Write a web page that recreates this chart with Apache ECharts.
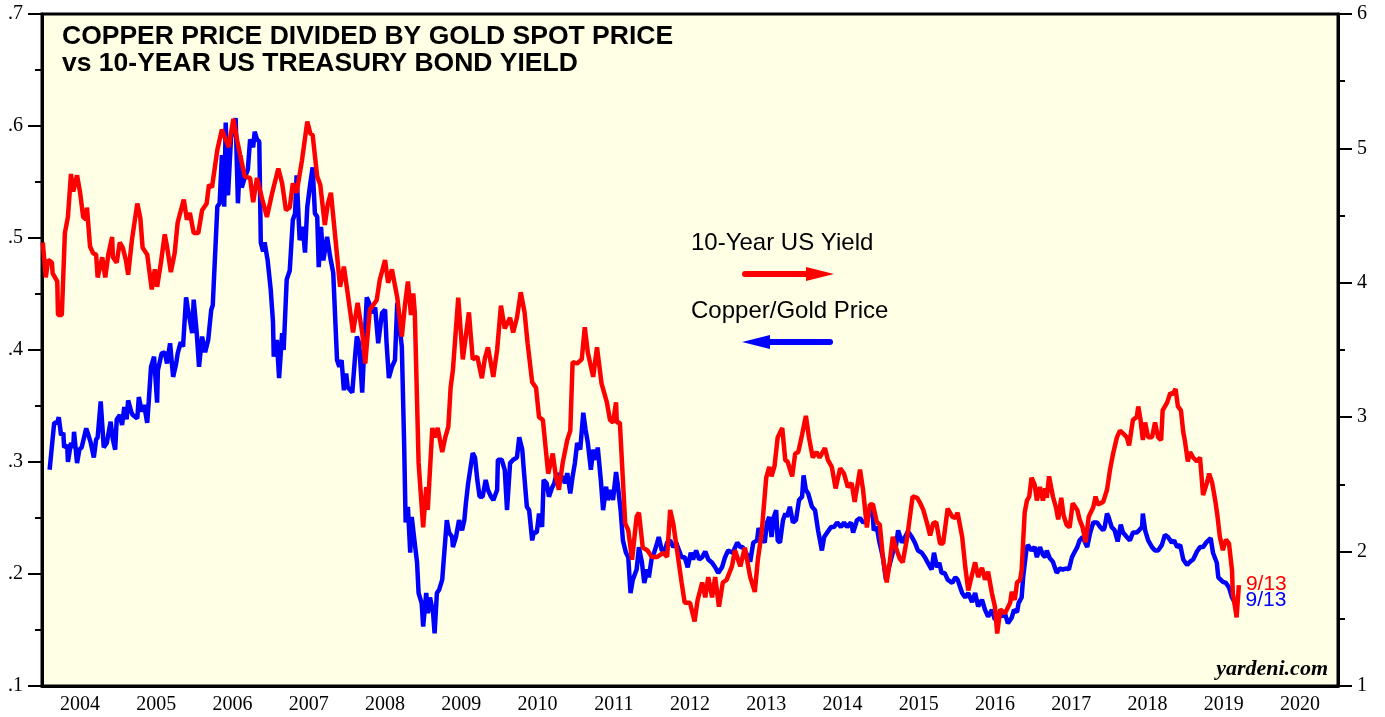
<!DOCTYPE html>
<html>
<head>
<meta charset="utf-8">
<script src="https://cdn.jsdelivr.net/npm/echarts@6/dist/echarts.min.js"></script>
<style>
  html, body { margin: 0; padding: 0; background: #fff; }
  #chart { width: 1385px; height: 717px; }
</style>
</head>
<body>
<div id="chart"></div>
<script>
// ============================================================================
// Data ([decimal year, value])
// ============================================================================

const yearLabels = ['2004','2005','2006','2007','2008','2009','2010','2011','2012',
                    '2013','2014','2015','2016','2017','2018','2019','2020']

// 10-year US Treasury yield, percent (right axis)
const yieldData = [
  [2004.01,4.30],[2004.05,4.04],[2004.08,4.17],[2004.13,4.15],[2004.14,4.07],[2004.20,4.01],[2004.21,3.76],[2004.26,3.76],
  [2004.30,4.37],[2004.34,4.49],[2004.38,4.81],[2004.41,4.68],[2004.46,4.80],[2004.50,4.67],[2004.54,4.49],[2004.58,4.47],
  [2004.59,4.56],[2004.63,4.27],[2004.67,4.22],[2004.71,4.21],[2004.73,4.04],[2004.79,4.19],[2004.83,4.04],[2004.87,4.21],
  [2004.92,4.34],[2004.93,4.19],[2004.98,4.15],[2005.02,4.30],[2005.06,4.26],[2005.10,4.17],[2005.13,4.06],[2005.18,4.32],
  [2005.25,4.59],[2005.29,4.48],[2005.32,4.26],[2005.38,4.21],[2005.44,3.95],[2005.48,4.10],[2005.51,3.97],[2005.56,4.15],
  [2005.61,4.36],[2005.64,4.27],[2005.69,4.08],[2005.74,4.22],[2005.78,4.45],[2005.86,4.62],[2005.90,4.47],[2005.94,4.52],
  [2005.99,4.37],[2006.05,4.37],[2006.10,4.54],[2006.16,4.59],[2006.19,4.73],[2006.23,4.71],[2006.30,4.99],[2006.36,5.14],
  [2006.40,5.08],[2006.45,5.01],[2006.51,5.22],[2006.56,5.06],[2006.60,4.95],[2006.66,4.79],[2006.73,4.78],[2006.77,4.60],
  [2006.82,4.78],[2006.89,4.62],[2006.95,4.49],[2007.02,4.67],[2007.10,4.85],[2007.15,4.74],[2007.20,4.54],[2007.25,4.56],
  [2007.29,4.74],[2007.34,4.67],[2007.41,4.91],[2007.48,5.20],[2007.52,5.11],[2007.55,5.10],[2007.61,4.79],[2007.65,4.73],
  [2007.71,4.43],[2007.75,4.59],[2007.79,4.67],[2007.84,4.38],[2007.91,3.97],[2007.96,4.12],[2008.01,3.92],[2008.08,3.63],
  [2008.14,3.85],[2008.20,3.63],[2008.24,3.40],[2008.30,3.80],[2008.39,3.87],[2008.43,4.02],[2008.50,4.17],[2008.54,4.00],
  [2008.59,4.10],[2008.66,3.89],[2008.72,3.60],[2008.76,3.83],[2008.80,4.01],[2008.84,3.76],[2008.87,3.92],[2008.89,3.78],
  [2008.94,2.66],[2009.00,2.18],[2009.04,2.48],[2009.06,2.31],[2009.12,2.92],[2009.15,2.85],[2009.19,2.92],[2009.25,2.74],
  [2009.29,2.85],[2009.33,2.93],[2009.36,3.22],[2009.39,3.35],[2009.46,3.89],[2009.52,3.43],[2009.60,3.78],[2009.65,3.43],
  [2009.71,3.45],[2009.77,3.29],[2009.81,3.44],[2009.85,3.52],[2009.92,3.30],[2009.97,3.50],[2010.02,3.83],[2010.07,3.66],
  [2010.14,3.74],[2010.18,3.63],[2010.23,3.74],[2010.28,3.93],[2010.33,3.78],[2010.37,3.55],[2010.43,3.26],[2010.48,3.22],
  [2010.52,3.00],[2010.57,2.98],[2010.64,2.58],[2010.70,2.73],[2010.74,2.56],[2010.78,2.46],[2010.83,2.66],[2010.89,2.83],
  [2010.93,2.90],[2010.96,3.41],[2011.02,3.40],[2011.08,3.43],[2011.12,3.67],[2011.16,3.48],[2011.23,3.30],[2011.28,3.52],
  [2011.34,3.25],[2011.41,3.11],[2011.45,2.98],[2011.49,2.96],[2011.53,3.11],[2011.54,2.96],[2011.58,2.96],[2011.65,2.21],
  [2011.69,2.16],[2011.74,1.94],[2011.80,2.26],[2011.83,2.29],[2011.88,2.03],[2011.94,2.01],[2012.00,1.96],[2012.07,1.96],
  [2012.15,1.99],[2012.20,1.96],[2012.24,2.31],[2012.28,2.21],[2012.33,2.01],[2012.39,1.77],[2012.43,1.62],[2012.50,1.62],
  [2012.56,1.48],[2012.60,1.64],[2012.66,1.77],[2012.70,1.66],[2012.74,1.81],[2012.79,1.66],[2012.83,1.81],[2012.88,1.59],
  [2012.93,1.77],[2012.98,1.79],[2013.05,1.89],[2013.09,2.01],[2013.16,1.89],[2013.22,2.03],[2013.29,1.81],[2013.35,1.70],
  [2013.39,1.94],[2013.44,2.14],[2013.50,2.55],[2013.54,2.63],[2013.57,2.56],[2013.61,2.64],[2013.65,2.85],[2013.71,2.92],
  [2013.75,2.68],[2013.78,2.67],[2013.84,2.56],[2013.88,2.73],[2013.92,2.74],[2013.97,2.87],[2014.02,3.01],[2014.06,2.85],
  [2014.11,2.70],[2014.16,2.74],[2014.20,2.70],[2014.27,2.77],[2014.31,2.68],[2014.36,2.63],[2014.41,2.47],[2014.47,2.62],
  [2014.52,2.58],[2014.57,2.48],[2014.62,2.51],[2014.66,2.37],[2014.73,2.61],[2014.77,2.46],[2014.82,2.18],[2014.86,2.35],
  [2014.90,2.35],[2014.95,2.22],[2014.99,2.20],[2015.03,1.96],[2015.08,1.77],[2015.12,1.92],[2015.16,2.11],[2015.20,2.03],
  [2015.25,1.95],[2015.29,1.92],[2015.35,2.11],[2015.38,2.24],[2015.42,2.41],[2015.48,2.40],[2015.52,2.36],[2015.56,2.31],
  [2015.61,2.21],[2015.65,2.12],[2015.69,2.21],[2015.73,2.22],[2015.78,2.06],[2015.82,2.06],[2015.88,2.32],[2015.94,2.26],
  [2015.98,2.25],[2016.01,2.29],[2016.07,2.11],[2016.11,1.89],[2016.15,1.71],[2016.20,1.83],[2016.24,1.92],[2016.28,1.81],
  [2016.33,1.88],[2016.37,1.79],[2016.41,1.85],[2016.46,1.69],[2016.50,1.59],[2016.53,1.39],[2016.57,1.57],[2016.63,1.54],
  [2016.70,1.62],[2016.72,1.70],[2016.76,1.64],[2016.79,1.77],[2016.83,1.79],[2016.85,1.86],[2016.89,2.29],[2016.92,2.38],
  [2016.95,2.41],[2016.98,2.55],[2017.02,2.50],[2017.05,2.38],[2017.09,2.48],[2017.13,2.38],[2017.16,2.47],[2017.18,2.40],
  [2017.21,2.56],[2017.26,2.41],[2017.30,2.33],[2017.33,2.24],[2017.37,2.40],[2017.40,2.27],[2017.44,2.20],[2017.48,2.18],
  [2017.52,2.36],[2017.58,2.31],[2017.61,2.24],[2017.65,2.18],[2017.69,2.07],[2017.73,2.26],[2017.79,2.33],[2017.82,2.41],
  [2017.85,2.35],[2017.92,2.37],[2017.97,2.46],[2018.01,2.61],[2018.05,2.73],[2018.10,2.85],[2018.14,2.90],[2018.18,2.88],
  [2018.23,2.85],[2018.26,2.79],[2018.31,2.98],[2018.36,3.00],[2018.38,3.08],[2018.41,2.98],[2018.44,2.83],[2018.47,2.96],
  [2018.51,2.85],[2018.56,2.85],[2018.60,2.96],[2018.64,2.85],[2018.68,2.83],[2018.70,3.05],[2018.76,3.11],[2018.80,3.18],
  [2018.83,3.17],[2018.87,3.21],[2018.90,3.08],[2018.94,3.05],[2018.97,2.89],[2018.99,2.83],[2019.03,2.67],[2019.06,2.74],
  [2019.10,2.70],[2019.15,2.67],[2019.19,2.70],[2019.23,2.42],[2019.28,2.51],[2019.31,2.58],[2019.35,2.51],[2019.39,2.38],
  [2019.42,2.26],[2019.45,2.11],[2019.49,2.01],[2019.53,2.09],[2019.57,2.06],[2019.61,1.86],[2019.62,1.69],[2019.66,1.55],
  [2019.67,1.51],[2019.70,1.75]
]

// copper price / gold spot price ratio (left axis)
const ratioData = [
  [2004.10,.293],[2004.16,.335],[2004.20,.335],[2004.22,.340],[2004.25,.324],[2004.28,.326],[2004.29,.313],[2004.33,.315],
  [2004.34,.300],[2004.38,.317],[2004.41,.313],[2004.42,.327],[2004.46,.299],[2004.49,.311],[2004.52,.313],[2004.58,.330],
  [2004.60,.326],[2004.64,.317],[2004.68,.304],[2004.71,.320],[2004.73,.322],[2004.77,.354],[2004.81,.313],[2004.85,.317],
  [2004.90,.336],[2004.93,.320],[2004.96,.311],[2004.98,.338],[2005.02,.342],[2005.05,.333],[2005.08,.349],[2005.11,.338],
  [2005.13,.355],[2005.17,.345],[2005.19,.342],[2005.25,.339],[2005.27,.358],[2005.31,.345],[2005.34,.351],[2005.38,.335],
  [2005.40,.354],[2005.43,.385],[2005.47,.394],[2005.51,.353],[2005.52,.382],[2005.57,.397],[2005.61,.398],[2005.64,.388],
  [2005.68,.406],[2005.72,.376],[2005.76,.388],[2005.78,.397],[2005.82,.407],[2005.85,.403],[2005.89,.447],[2005.91,.438],
  [2005.97,.415],[2005.99,.445],[2006.03,.415],[2006.06,.385],[2006.10,.412],[2006.14,.398],[2006.18,.409],[2006.22,.436],
  [2006.24,.440],[2006.30,.528],[2006.33,.531],[2006.36,.574],[2006.39,.528],[2006.41,.603],[2006.44,.538],[2006.48,.590],
  [2006.51,.596],[2006.54,.607],[2006.57,.531],[2006.60,.574],[2006.62,.545],[2006.66,.554],[2006.70,.561],[2006.73,.588],
  [2006.77,.581],[2006.79,.595],[2006.82,.588],[2006.85,.586],[2006.87,.496],[2006.90,.488],[2006.92,.496],[2006.96,.480],
  [2007.00,.454],[2007.03,.425],[2007.04,.394],[2007.08,.409],[2007.11,.375],[2007.15,.415],[2007.17,.400],[2007.21,.463],
  [2007.25,.471],[2007.29,.516],[2007.32,.522],[2007.34,.556],[2007.38,.498],[2007.42,.510],[2007.45,.487],[2007.48,.528],
  [2007.52,.549],[2007.55,.563],[2007.58,.522],[2007.61,.519],[2007.63,.474],[2007.66,.510],[2007.69,.480],[2007.74,.501],
  [2007.78,.483],[2007.82,.469],[2007.87,.391],[2007.90,.385],[2007.93,.391],[2007.96,.364],[2007.99,.379],[2008.01,.367],
  [2008.07,.362],[2008.11,.397],[2008.13,.412],[2008.16,.406],[2008.20,.362],[2008.22,.391],[2008.26,.447],[2008.29,.442],
  [2008.33,.433],[2008.37,.438],[2008.41,.406],[2008.46,.433],[2008.50,.436],[2008.52,.406],[2008.55,.375],[2008.59,.385],
  [2008.63,.391],[2008.66,.442],[2008.70,.415],[2008.72,.403],[2008.75,.317],[2008.77,.246],[2008.80,.260],[2008.83,.219],
  [2008.85,.251],[2008.88,.233],[2008.92,.210],[2008.94,.183],[2008.98,.174],[2009.00,.153],[2009.04,.183],[2009.06,.165],
  [2009.09,.179],[2009.13,.165],[2009.15,.147],[2009.18,.183],[2009.21,.186],[2009.25,.195],[2009.26,.204],[2009.31,.248],
  [2009.34,.237],[2009.38,.233],[2009.39,.224],[2009.43,.233],[2009.47,.248],[2009.51,.239],[2009.54,.248],[2009.56,.263],
  [2009.59,.281],[2009.65,.308],[2009.68,.304],[2009.71,.284],[2009.74,.269],[2009.78,.269],[2009.82,.284],[2009.85,.275],
  [2009.89,.269],[2009.92,.266],[2009.97,.275],[2009.98,.302],[2010.03,.302],[2010.07,.293],[2010.10,.257],[2010.14,.299],
  [2010.18,.302],[2010.23,.304],[2010.26,.322],[2010.30,.311],[2010.32,.293],[2010.36,.260],[2010.39,.257],[2010.43,.230],
  [2010.45,.237],[2010.49,.237],[2010.52,.254],[2010.56,.242],[2010.58,.284],[2010.62,.281],[2010.65,.269],[2010.69,.277],
  [2010.72,.281],[2010.75,.290],[2010.79,.284],[2010.83,.287],[2010.86,.281],[2010.89,.290],[2010.93,.272],[2010.96,.287],
  [2010.99,.299],[2011.02,.317],[2011.06,.311],[2011.10,.344],[2011.13,.329],[2011.16,.317],[2011.20,.293],[2011.23,.311],
  [2011.27,.302],[2011.29,.313],[2011.33,.284],[2011.36,.257],[2011.40,.278],[2011.42,.266],[2011.46,.275],[2011.49,.266],
  [2011.53,.291],[2011.55,.281],[2011.59,.257],[2011.62,.230],[2011.66,.219],[2011.69,.215],[2011.72,.183],[2011.75,.195],
  [2011.80,.204],[2011.83,.224],[2011.87,.210],[2011.90,.192],[2011.94,.204],[2011.96,.197],[2012.00,.215],[2012.03,.219],
  [2012.07,.228],[2012.09,.233],[2012.13,.221],[2012.17,.221],[2012.20,.228],[2012.24,.230],[2012.28,.224],[2012.32,.228],
  [2012.34,.224],[2012.39,.215],[2012.43,.215],[2012.47,.206],[2012.51,.219],[2012.54,.213],[2012.58,.221],[2012.62,.213],
  [2012.66,.215],[2012.70,.220],[2012.74,.213],[2012.79,.210],[2012.83,.206],[2012.87,.201],[2012.92,.206],[2012.96,.215],
  [2013.00,.221],[2013.06,.219],[2013.12,.228],[2013.16,.224],[2013.19,.224],[2013.25,.217],[2013.29,.211],[2013.33,.228],
  [2013.38,.230],[2013.40,.241],[2013.44,.233],[2013.48,.228],[2013.51,.246],[2013.54,.251],[2013.57,.233],[2013.60,.251],
  [2013.63,.257],[2013.65,.230],[2013.68,.228],[2013.72,.248],[2013.75,.254],[2013.77,.251],[2013.81,.260],[2013.85,.246],
  [2013.89,.248],[2013.93,.266],[2013.97,.269],[2013.99,.288],[2014.02,.275],[2014.05,.272],[2014.10,.260],[2014.14,.257],
  [2014.18,.239],[2014.23,.221],[2014.26,.233],[2014.30,.237],[2014.35,.242],[2014.39,.242],[2014.43,.246],[2014.48,.242],
  [2014.52,.246],[2014.56,.242],[2014.61,.246],[2014.64,.237],[2014.69,.248],[2014.73,.250],[2014.77,.246],[2014.82,.248],
  [2014.85,.254],[2014.89,.263],[2014.91,.239],[2014.95,.242],[2014.98,.230],[2015.03,.215],[2015.07,.195],[2015.11,.206],
  [2015.16,.219],[2015.20,.224],[2015.23,.239],[2015.28,.228],[2015.32,.233],[2015.36,.238],[2015.41,.233],[2015.45,.228],
  [2015.49,.221],[2015.54,.219],[2015.58,.215],[2015.62,.210],[2015.67,.204],[2015.70,.219],[2015.74,.206],[2015.77,.210],
  [2015.80,.201],[2015.84,.201],[2015.88,.195],[2015.94,.192],[2015.98,.197],[2016.01,.195],[2016.07,.183],[2016.11,.179],
  [2016.15,.183],[2016.20,.175],[2016.24,.183],[2016.28,.171],[2016.33,.177],[2016.37,.168],[2016.41,.162],[2016.46,.168],
  [2016.50,.159],[2016.54,.165],[2016.59,.162],[2016.63,.165],[2016.67,.156],[2016.72,.161],[2016.75,.168],[2016.79,.166],
  [2016.81,.174],[2016.85,.179],[2016.87,.197],[2016.91,.220],[2016.93,.226],[2016.98,.221],[2017.02,.224],[2017.05,.215],
  [2017.09,.224],[2017.13,.217],[2017.16,.215],[2017.18,.221],[2017.22,.214],[2017.26,.211],[2017.31,.201],[2017.35,.205],
  [2017.39,.204],[2017.44,.205],[2017.47,.204],[2017.51,.215],[2017.54,.219],[2017.58,.224],[2017.61,.230],[2017.65,.233],
  [2017.71,.224],[2017.75,.237],[2017.79,.246],[2017.84,.246],[2017.88,.242],[2017.92,.239],[2017.94,.242],[2017.97,.254],
  [2017.99,.251],[2018.03,.242],[2018.07,.239],[2018.11,.229],[2018.15,.244],[2018.18,.237],[2018.23,.233],[2018.27,.230],
  [2018.31,.237],[2018.36,.237],[2018.39,.239],[2018.43,.242],[2018.44,.254],[2018.47,.239],[2018.51,.230],[2018.56,.224],
  [2018.60,.221],[2018.64,.221],[2018.69,.226],[2018.73,.235],[2018.77,.233],[2018.82,.228],[2018.85,.230],[2018.89,.224],
  [2018.93,.226],[2018.97,.213],[2019.02,.208],[2019.06,.211],[2019.10,.213],[2019.15,.220],[2019.19,.224],[2019.23,.224],
  [2019.27,.228],[2019.29,.228],[2019.33,.232],[2019.36,.219],[2019.41,.210],[2019.43,.197],[2019.49,.193],[2019.53,.192],
  [2019.57,.188],[2019.61,.179],[2019.65,.174],[2019.67,.171]
]

const lastDateLabel = '9/13'

// ============================================================================
// Styles
// ============================================================================

const _serif = 'Liberation Serif'
const _sans = 'Liberation Sans'
const _axisLabel = {color: '#000', fontFamily: _serif, fontSize: 20}
const _blackLine = {color: '#000', width: 3}

// ============================================================================
// Chart
// ============================================================================

function renderChart() {
    const chart = echarts.init(document.getElementById('chart'))
    const option = {
        animation: false,
        title: {
            text: 'COPPER PRICE DIVIDED BY GOLD SPOT PRICE\nvs 10-YEAR US TREASURY BOND YIELD',
            left: 57,
            top: 18,
            textStyle: {fontFamily: _sans, fontSize: 26.5, fontWeight: 'bold', color: '#000', lineHeight: 27},
        },
        grid: {
            left: 42, right: 47, top: 14, bottom: 31,
            show: true,
            backgroundColor: '#FFFFE6',
            borderColor: '#000',
            borderWidth: 3,
        },
        xAxis: [
            {type: 'value', min: 2004, max: 2021, position: 'top', show: false},
            {
                type: 'category',
                data: yearLabels,
                position: 'bottom',
                boundaryGap: true,
                axisLine: {lineStyle: _blackLine},
                axisTick: {length: 12, lineStyle: _blackLine},
                axisLabel: {..._axisLabel, margin: 9},
            },
        ],
        yAxis: [
            {
                type: 'value', min: 0.1, max: 0.7, interval: 0.1, position: 'left',
                axisLine: {show: true, lineStyle: _blackLine},
                axisTick: {show: true, length: 14, lineStyle: {color: '#000', width: 2}},
                minorTick: {show: true, splitNumber: 2, length: 7, lineStyle: {color: '#000', width: 2}},
                splitLine: {show: false},
                axisLabel: {..._axisLabel, margin: 19, formatter: v => v.toFixed(1).replace(/^0/, '')},
            },
            {
                type: 'value', min: 1, max: 6, interval: 1, position: 'right',
                axisLine: {show: true, lineStyle: _blackLine},
                axisTick: {show: true, length: 14, lineStyle: {color: '#000', width: 2}},
                minorTick: {show: true, splitNumber: 2, length: 7, lineStyle: {color: '#000', width: 2}},
                splitLine: {show: false},
                axisLabel: {..._axisLabel, margin: 19},
            },
        ],
        series: [
            {
                name: 'Copper/Gold Price',
                type: 'line',
                xAxisIndex: 0,
                yAxisIndex: 0,
                data: ratioData,
                showSymbol: false,
                lineStyle: {color: '#0000FF', width: 4.5},
                endLabel: {show: true, formatter: lastDateLabel, color: '#0000FF',
                           fontFamily: _sans, fontSize: 21, distance: 9, offset: [0, -6]},
                z: 2,
            },
            {
                name: '10-Year US Yield',
                type: 'line',
                xAxisIndex: 0,
                yAxisIndex: 1,
                data: yieldData,
                showSymbol: false,
                lineStyle: {color: '#FF0000', width: 4.5},
                endLabel: {show: true, formatter: lastDateLabel, color: '#FF0000',
                           fontFamily: _sans, fontSize: 21, distance: 7, offset: [0, -1]},
                z: 3,
            },
        ],
        graphic: [
            {type: 'text', left: 691, top: 231,
             style: {text: '10-Year US Yield', fill: '#000', font: '24px ' + _sans}},
            {type: 'line', shape: {x1: 745, y1: 274, x2: 812, y2: 274},
             style: {stroke: '#FF0000', lineWidth: 6, lineCap: 'round'}},
            {type: 'polygon', shape: {points: [[806, 267], [834, 274], [806, 281]]},
             style: {fill: '#FF0000'}},
            {type: 'text', left: 691, top: 299,
             style: {text: 'Copper/Gold Price', fill: '#000', font: '24px ' + _sans}},
            {type: 'line', shape: {x1: 764, y1: 342, x2: 830, y2: 342},
             style: {stroke: '#0000FF', lineWidth: 6, lineCap: 'round'}},
            {type: 'polygon', shape: {points: [[770, 335], [742, 342], [770, 349]]},
             style: {fill: '#0000FF'}},
            {type: 'text', right: 57, top: 658,
             style: {text: 'yardeni.com', fill: '#000', font: 'italic bold 22px ' + _serif}},
        ],
    }
    chart.setOption(option)
}

document.addEventListener('DOMContentLoaded', renderChart)
</script>
</body>
</html>
